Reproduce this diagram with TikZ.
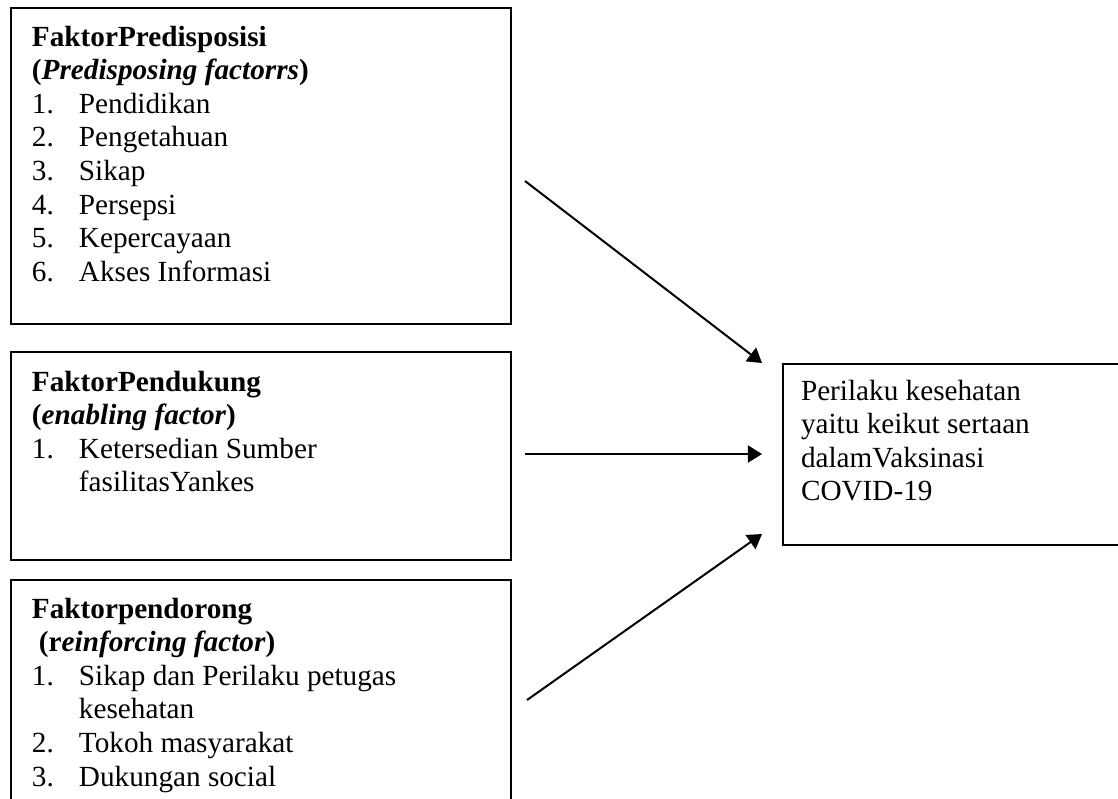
\documentclass[tikz,border=0pt]{standalone}
\usepackage{fontspec}
\setmainfont{Liberation Serif}
\usetikzlibrary{arrows.meta}
\newlength\pxu \setlength\pxu{0.4107pt}
\newlength\indw \setlength\indw{47\pxu}
\newcommand\itm[2]{\makebox[\indw][l]{#1}#2\par}
\newcommand\cnt[1]{\hspace*{\indw}#1\par}
\newcommand\bx[2]{\begin{minipage}[t]{#1\pxu}\fontsize{12pt}{13.8pt}\selectfont\setlength\parindent{0pt}#2\end{minipage}}
\begin{document}
\begin{tikzpicture}[x=\pxu,y=-\pxu, line width=0.82pt,
  box/.style={draw, rectangle, inner sep=0pt, anchor=north west},
  txt/.style={inner sep=0pt, anchor=base west},
  arr/.style={-{Triangle[length=5.8pt,width=7pt]}}]
\useasboundingbox (0,0) rectangle (1118,798);
\clip (0,0) rectangle (1118,798);
% boxes
\node[box, minimum width=500\pxu, minimum height=316\pxu] (b1) at (10,7) {};
\node[box, minimum width=500\pxu, minimum height=208\pxu] (b2) at (10,351) {};
\node[box, minimum width=500\pxu, minimum height=260\pxu] (b3) at (10,579) {};
\node[box, minimum width=380\pxu, minimum height=181\pxu] (b4) at (782,363) {};
% texts
\node[txt] (t1) at (31,46) {\bx{460}{\textbf{FaktorPredisposisi}\par
  \textbf{(\textit{Predisposing factorrs})}\par
  \itm{1.}{Pendidikan}
  \itm{2.}{Pengetahuan}
  \itm{3.}{Sikap}
  \itm{4.}{Persepsi}
  \itm{5.}{Kepercayaan}
  \itm{6.}{Akses Informasi}}};
\node[txt] (t2) at (31,391) {\bx{460}{\textbf{FaktorPendukung}\par
  \textbf{(\textit{enabling factor})}\par
  \itm{1.}{Ketersedian Sumber}
  \cnt{fasilitasYankes}}};
\node[txt] (t3) at (31,618) {\bx{460}{\textbf{Faktorpendorong}\par
  \hspace*{7\pxu}\textbf{(r\textit{einforcing factor})}\par
  \itm{1.}{Sikap dan Perilaku petugas}
  \cnt{kesehatan}
  \itm{2.}{Tokoh masyarakat}
  \itm{3.}{Dukungan social}}};
\node[txt] (t4) at (800,400) {\bx{300}{Perilaku kesehatan\par
  yaitu keikut sertaan\par
  dalamVaksinasi\par
  COVID-19}};
% connectors
\coordinate (s1) at (525,181);
\coordinate (s2) at (525,454);
\coordinate (s3) at (527,700);
\coordinate (e1) at ([xshift=-20\pxu]b4.north west);
\coordinate (e2) at (762,454);
\coordinate (e3) at (762,534);
\draw[arr] (s1) -- (e1);
\draw[arr] (s2) -- (e2);
\draw[arr] (s3) -- (e3);
\end{tikzpicture}
\end{document}
